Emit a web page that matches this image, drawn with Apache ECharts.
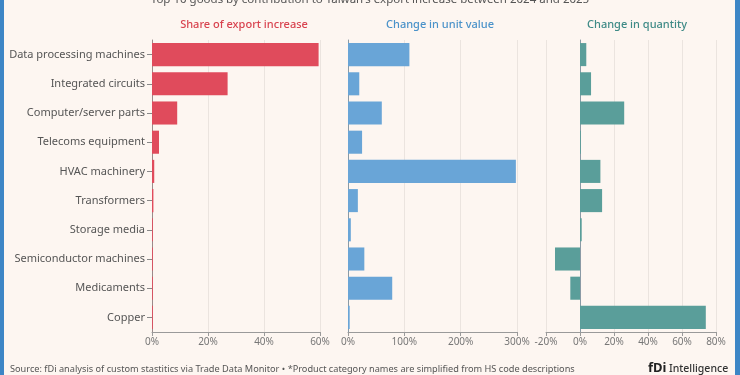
<!DOCTYPE html>
<html>
<head>
<meta charset="utf-8">
<script src="https://cdn.jsdelivr.net/npm/echarts@6/dist/echarts.min.js"></script>
<style>
    html, body {margin: 0; padding: 0; background: #fdf6f1;}
    #chart {width: 740px; height: 375px;}
</style>
</head>
<body>
<div id="chart"></div>
<script>
// categories, top to bottom
const categories = ['Data processing machines', 'Integrated circuits', 'Computer/server parts', 'Telecoms equipment',
    'HVAC machinery', 'Transformers', 'Storage media', 'Semiconductor machines', 'Medicaments', 'Copper'];
// % values
const shareIncrease = [59.5, 27, 9, 2.5, 0.8, 0.5, 0.3, 0.3, 0.3, 0.3];
const unitValueChange = [109, 20, 60, 25, 298, 17.5, 5, 29, 78.5, 3];
const quantityChange = [3.7, 6.5, 26, 0.5, 12, 13, 1, -14.7, -5.7, 74];

const panelTitles = ['Share of export increase', 'Change in unit value', 'Change in quantity'];
const colors = ['#e04b5c', '#69a5d7', '#5a9e9a'];

const FONT = '"Noto Sans", sans-serif';

const grids = [
    {left: 152, top: 40, width: 168, height: 292},
    {left: 348, top: 40, width: 169, height: 292},
    {left: 546, top: 40, width: 170, height: 292}
];
const xRanges = [
    {min: 0, max: 60, interval: 20},
    {min: 0, max: 300, interval: 100},
    {min: -20, max: 80, interval: 20}
];

function makeXAxis(i){
    return {
        type: 'value',
        gridIndex: i,
        min: xRanges[i].min,
        max: xRanges[i].max,
        interval: xRanges[i].interval,
        axisLine: {show: true, lineStyle: {color: '#9a9a9a', width: 1}},
        axisTick: {show: true, length: 4, lineStyle: {color: '#9a9a9a'}},
        axisLabel: {formatter: '{value}%', color: '#777', fontSize: 10, fontFamily: FONT, margin: 5},
        splitLine: {show: true, lineStyle: {color: '#ebe4df', width: 1}}
    };
}

function makeYAxis(i){
    return {
        type: 'category',
        gridIndex: i,
        inverse: true,
        data: categories,
        axisLine: {show: true, onZero: true, lineStyle: {color: i === 0 ? '#9a8a8a' : '#8a9aa5', width: 1}},
        axisTick: {show: i === 0, length: 5, alignWithLabel: true, lineStyle: {color: '#888'}},
        axisLabel: {show: i === 0, color: '#555', fontSize: 11, fontFamily: FONT, margin: 7},
        splitLine: {show: false}
    };
}

const seriesData = [shareIncrease, unitValueChange, quantityChange];

const option = {
    backgroundColor: '#fdf6f1',
    animation: false,
    grid: grids,
    xAxis: [0, 1, 2].map(makeXAxis),
    yAxis: [0, 1, 2].map(makeYAxis),
    series: seriesData.map((data, i) => {
        return {
            type: 'bar',
            name: panelTitles[i],
            xAxisIndex: i,
            yAxisIndex: i,
            data: data,
            barCategoryGap: '21%',
            itemStyle: {color: colors[i]}
        };
    }),
    graphic: [
        // side borders
        {type: 'rect', left: 0, top: 0, shape: {width: 4, height: 375}, style: {fill: '#3d86c6'}},
        {type: 'rect', left: 735, top: 0, shape: {width: 5, height: 375}, style: {fill: '#3d86c6'}},
        {
            type: 'text', left: 'center', top: -6,
            style: {text: 'Top 10 goods by contribution to Taiwan\'s export increase between 2024 and 2025',
                fill: '#555', font: '11.5px ' + FONT}
        },
        {
            type: 'text', x: 244, y: 25,
            style: {text: panelTitles[0], fill: '#d8434f', font: '500 11px ' + FONT, align: 'center', verticalAlign: 'middle'}
        },
        {
            type: 'text', x: 440, y: 25,
            style: {text: panelTitles[1], fill: '#4a92c9', font: '500 11px ' + FONT, align: 'center', verticalAlign: 'middle'}
        },
        {
            type: 'text', x: 637, y: 25,
            style: {text: panelTitles[2], fill: '#3e8a86', font: '500 11px ' + FONT, align: 'center', verticalAlign: 'middle'}
        },
        {
            type: 'text', x: 10, y: 369,
            style: {text: 'Source: fDi analysis of custom stastitics via Trade Data Monitor \u2022 *Product category names are simplified from HS code descriptions',
                fill: '#555', font: '9.2px ' + FONT, verticalAlign: 'middle'}
        },
        {
            type: 'text', x: 648, y: 368,
            style: {text: 'fDi', fill: '#222', font: 'bold 13px ' + FONT, verticalAlign: 'middle'}
        },
        {
            type: 'text', x: 669, y: 369,
            style: {text: 'Intelligence', fill: '#333', font: '500 10.5px ' + FONT, verticalAlign: 'middle'}
        }
    ]
};

const chart = echarts.init(document.getElementById('chart'), null, {renderer: 'canvas'});
chart.setOption(option);
</script>
</body>
</html>
